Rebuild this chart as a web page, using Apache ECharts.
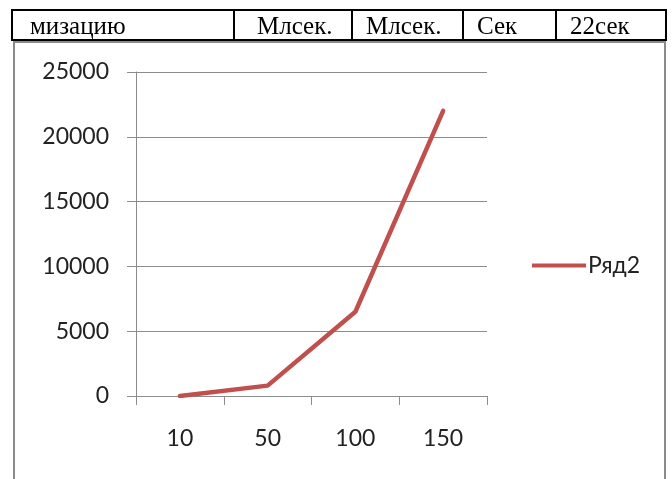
<!DOCTYPE html>
<html>
<head>
<meta charset="utf-8">
<script src="https://cdn.jsdelivr.net/npm/echarts@6/dist/echarts.min.js"></script>
<style>
  html, body { margin: 0; padding: 0; background: #fff; }
  #chart { width: 672px; height: 479px; }
</style>
</head>
<body>
<div id="chart"></div>
<script>
// Input sizes and measured run time (ms)
const categories = ['10', '50', '100', '150'];
const seriesName = 'Ряд2';
const timeValues = [0, 800, 6500, 22000];
const yTicks = { min: 0, max: 25000, step: 5000 };

// Table row above the chart: cell text and left edges of the cells
const tableCells = ['мизацию', 'Млсек.', 'Млсек.', 'Сек', '22сек'];
const cellTextX = [30, 257, 366, 477, 570];
const cellDividers = [234, 352, 463, 556];

const chart = echarts.init(document.getElementById('chart'), null, { renderer: 'canvas' });

const axisGray = '#8c8c8c';
const labelFont = 'Lato, "Open Sans", sans-serif';

const graphics = [];
// frame of the chart (grey) below the table row
graphics.push({ type: 'line', shape: { x1: 14, y1: 42, x2: 14, y2: 479 }, style: { stroke: '#8a8a8a', lineWidth: 2 } });
graphics.push({ type: 'line', shape: { x1: 665, y1: 42, x2: 665, y2: 479 }, style: { stroke: '#8a8a8a', lineWidth: 2 } });
graphics.push({ type: 'line', shape: { x1: 13, y1: 42, x2: 666, y2: 42 }, style: { stroke: '#8a8a8a', lineWidth: 2 } });
// table row borders
graphics.push({ type: 'rect', shape: { x: 12, y: 10, width: 654, height: 30 }, style: { fill: 'none', stroke: '#000', lineWidth: 2 } });
cellDividers.forEach(function (x) {
  graphics.push({ type: 'line', shape: { x1: x, y1: 10, x2: x, y2: 40 }, style: { stroke: '#000', lineWidth: 2 } });
});
tableCells.forEach(function (t, i) {
  graphics.push({
    type: 'text', x: cellTextX[i], y: 27,
    style: { text: t, font: '25px "Liberation Serif", "Times New Roman", serif', fill: '#000', verticalAlign: 'middle', align: 'left' }
  });
});

chart.setOption({
  animation: false,
  backgroundColor: '#fff',
  grid: { left: 136, right: 185, top: 72, bottom: 83, containLabel: false },
  legend: {
    data: [seriesName],
    left: 527, top: 249,
    icon: 'rect',
    itemWidth: 54, itemHeight: 4, itemGap: 5,
    textStyle: { fontFamily: labelFont, fontSize: 23, color: '#222', padding: [0, 0, 0, -3] }
  },
  xAxis: {
    type: 'category',
    data: categories,
    boundaryGap: true,
    axisLine: { lineStyle: { color: axisGray, width: 1 } },
    axisTick: { show: true, length: 9, alignWithLabel: false, lineStyle: { color: axisGray } },
    axisLabel: { margin: 31, fontFamily: labelFont, fontSize: 23, color: '#222' },
    splitLine: { show: false }
  },
  yAxis: {
    type: 'value',
    min: yTicks.min, max: yTicks.max, interval: yTicks.step,
    axisLine: { show: true, lineStyle: { color: axisGray, width: 1 } },
    axisTick: { show: true, length: 9, lineStyle: { color: axisGray } },
    axisLabel: { margin: 27, fontFamily: labelFont, fontSize: 23, color: '#222', formatter: function (v) { return String(v); } },
    splitLine: { show: true, lineStyle: { color: axisGray, width: 1 } }
  },
  series: [{
    name: seriesName,
    type: 'line',
    data: timeValues,
    showSymbol: false,
    symbol: 'none',
    lineStyle: { color: '#C0504D', width: 4.5, cap: 'round', join: 'round' },
    itemStyle: { color: '#C0504D' }
  }],
  graphic: graphics
});
</script>
</body>
</html>
